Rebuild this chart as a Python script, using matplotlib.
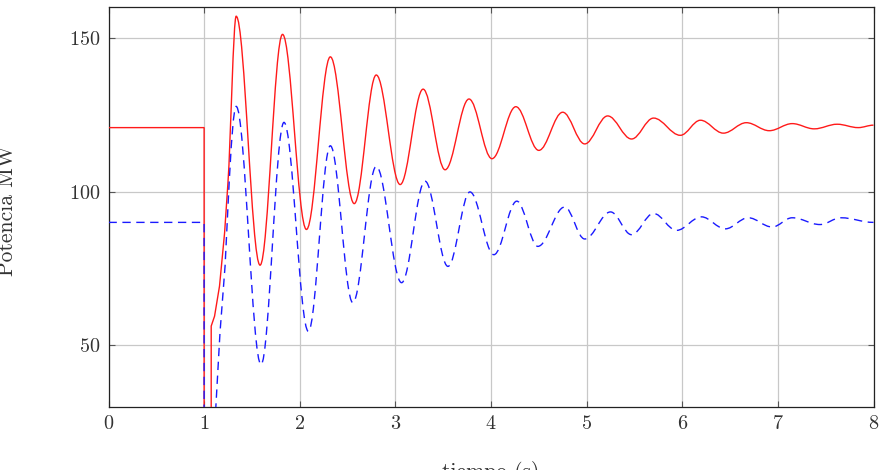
import matplotlib.pyplot as plt
from matplotlib.path import Path
from matplotlib.patches import PathPatch

plt.rcParams['font.family'] = 'cmr10'
plt.rcParams['axes.formatter.use_mathtext'] = True

# Red curve (solid): level before the fault, lead-in after the fault, then extrema
red_pre_t = [0.0, 1.0, 1.0, 1.074, 1.074]
red_pre_v = [120.8, 120.8, 20.0, 20.0, 56.3]
red_lead_t = [1.109, 1.161, 1.214, 1.249]
red_lead_v = [59.5, 69.3, 86.6, 102.8]
red_ext_t = [1.335, 1.585, 1.82, 2.07, 2.32, 2.57, 2.80, 3.05, 3.29, 3.52, 3.77, 4.01,
             4.26, 4.50, 4.75, 4.98, 5.22, 5.47, 5.70, 5.98, 6.19, 6.43, 6.67, 6.91,
             7.15, 7.38, 7.62, 7.84, 8.0]
red_ext_v = [157.0, 76.1, 151.1, 87.7, 143.8, 96.1, 137.9, 102.3, 133.3, 107.1, 130.1, 110.7,
             127.6, 113.4, 125.8, 115.5, 124.6, 117.1, 123.9, 118.3, 123.2, 119.0, 122.4, 119.8,
             122.1, 120.4, 121.9, 120.8, 121.6]

# Blue curve (dashed)
blue_pre_t = [0.0, 1.0, 1.0, 1.105]
blue_pre_v = [90.0, 90.0, 20.0, 20.0]
blue_lead_t = [1.127, 1.166, 1.219, 1.253]
blue_lead_v = [32.5, 54.2, 75.8, 97.4]
blue_ext_t = [1.335, 1.595, 1.835, 2.09, 2.32, 2.555, 2.80, 3.065, 3.31, 3.55, 3.78, 4.03,
              4.27, 4.49, 4.77, 4.98, 5.25, 5.47, 5.70, 5.94, 6.20, 6.45, 6.69, 6.94,
              7.15, 7.44, 7.66, 8.0]
blue_ext_v = [127.7, 43.8, 122.5, 54.6, 114.9, 63.9, 108.2, 70.4, 103.4, 75.7, 99.9, 79.5,
              96.9, 82.2, 95.0, 84.6, 93.4, 86.0, 92.9, 87.4, 91.8, 87.9, 91.5, 88.5,
              91.5, 89.3, 91.5, 90.0]

x_ticks = [0, 1, 2, 3, 4, 5, 6, 7, 8]
y_ticks = [50, 100, 150]


def curve_path(pre_t, pre_v, lead_t, lead_v, ext_t, ext_v, k=0.3634):
    verts = [(pre_t[0], pre_v[0])]
    codes = [Path.MOVETO]
    for t, v in zip(pre_t[1:] + lead_t, pre_v[1:] + lead_v):
        verts.append((t, v))
        codes.append(Path.LINETO)
    # smooth join from the lead-in to the first peak
    t0, v0 = lead_t[-1], lead_v[-1]
    slope = (lead_v[-1] - lead_v[-2]) / (lead_t[-1] - lead_t[-2])
    t1, v1 = ext_t[0], ext_v[0]
    d = (t1 - t0) / 3
    verts += [(t0 + d, v0 + slope * d), (t1 - d, v1), (t1, v1)]
    codes += [Path.CURVE4] * 3
    # half waves between extrema, flat at each extremum
    for i in range(len(ext_t) - 1):
        ta, va, tb, vb = ext_t[i], ext_v[i], ext_t[i + 1], ext_v[i + 1]
        d = (tb - ta) * k
        verts += [(ta + d, va), (tb - d, vb), (tb, vb)]
        codes += [Path.CURVE4] * 3
    return Path(verts, codes)


fig = plt.figure(figsize=(8.82, 4.70), dpi=100)
ax = fig.add_axes([108.5 / 882, 1 - 407 / 470, 765 / 882, 400 / 470])

ax.add_patch(PathPatch(curve_path(red_pre_t, red_pre_v, red_lead_t, red_lead_v, red_ext_t, red_ext_v),
                       facecolor='none', edgecolor='#ff1a1a', lw=1.0, zorder=3))
ax.add_patch(PathPatch(curve_path(blue_pre_t, blue_pre_v, blue_lead_t, blue_lead_v, blue_ext_t, blue_ext_v),
                       facecolor='none', edgecolor='#1a1aff', lw=1.0, linestyle=(0, (6, 4)), zorder=3))

ax.set_xlim(0, 8)
ax.set_ylim(30, 160)
ax.set_xticks(x_ticks)
ax.set_yticks(y_ticks)
ax.grid(True, color='#c8c8c8', lw=0.9)
ax.set_axisbelow(True)
ax.tick_params(direction='in', length=4, width=0.8, color='#555555', top=True, right=True,
               labelsize=14.5, labelcolor='#333333', pad=6)
for s in ax.spines.values():
    s.set_linewidth(0.9)
    s.set_color('#222222')

fig.text(491 / 882, 1 - 461 / 470, 'tiempo (s)', ha='center', va='top', fontsize=15.5, color='#333333')
fig.text(7 / 882, 1 - 210 / 470, 'Potencia MW', ha='center', va='center', rotation=90,
         fontsize=15.5, color='#333333')

fig.savefig('out.png', dpi=100)
